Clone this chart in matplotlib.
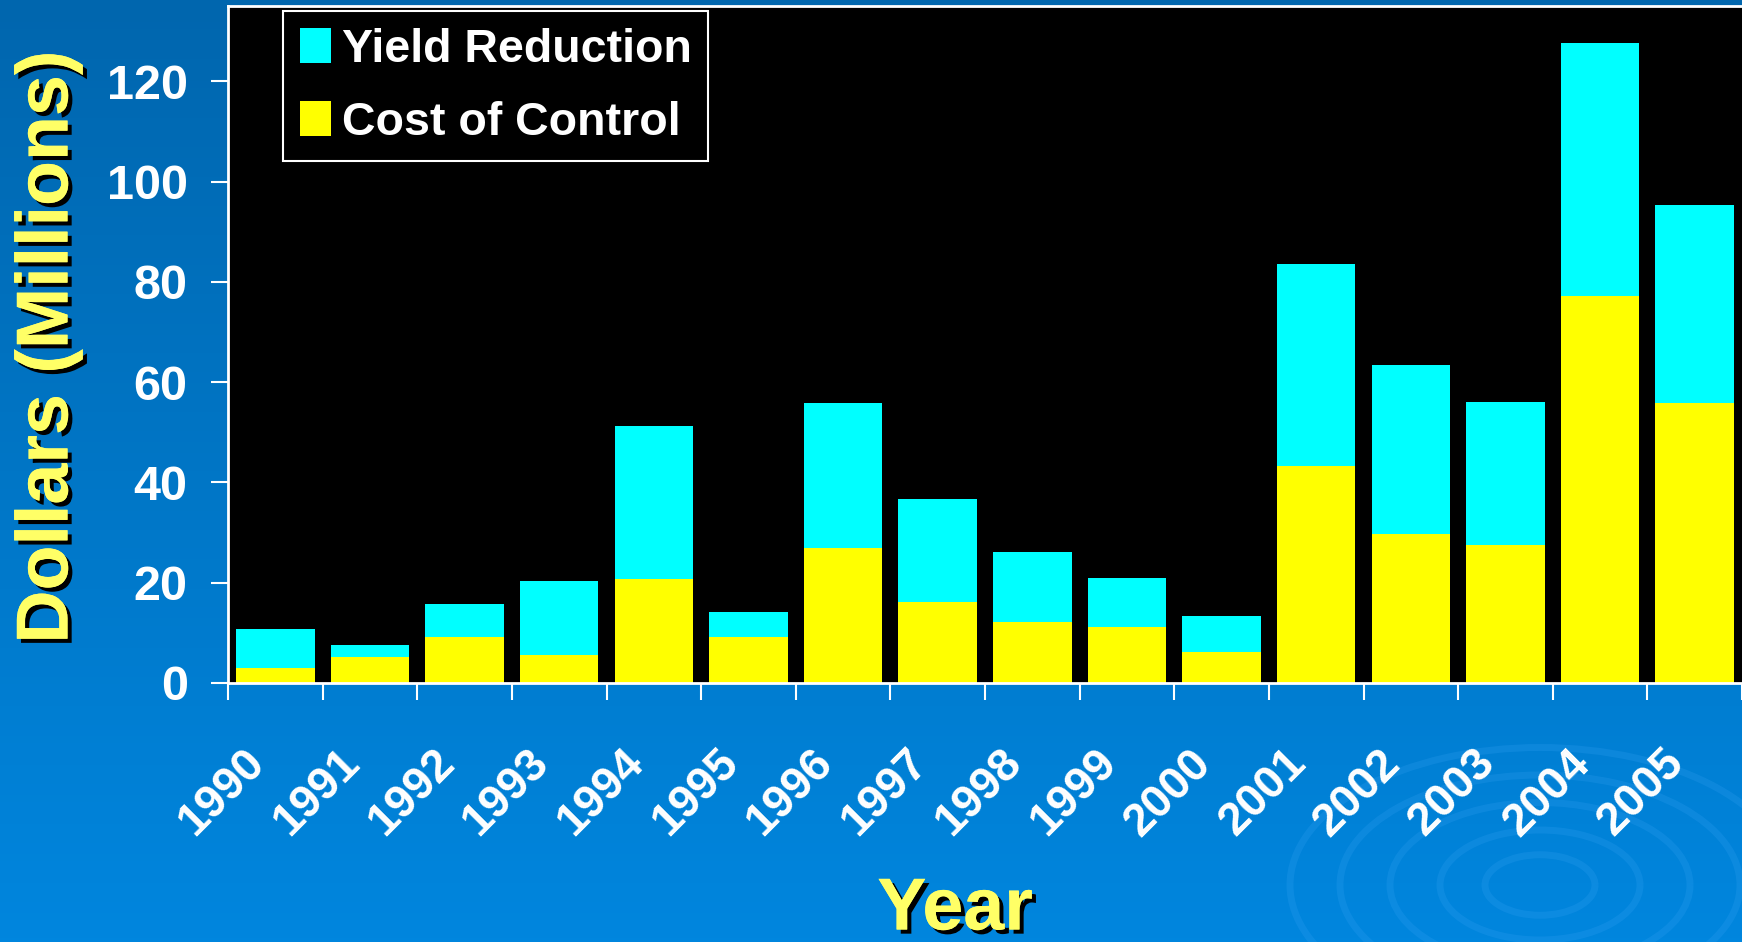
import numpy as np
import matplotlib
matplotlib.use("Agg")
import matplotlib.pyplot as plt
from matplotlib.patches import Patch, Arc
from matplotlib import patheffects as pe
from matplotlib.transforms import ScaledTranslation

# Annual losses, millions of dollars
years = ["1990", "1991", "1992", "1993", "1994", "1995", "1996", "1997",
         "1998", "1999", "2000", "2001", "2002", "2003", "2004", "2005"]
cost_of_control = [3.0, 5.1, 9.1, 5.5, 20.7, 9.1, 26.9, 16.2,
                   12.2, 11.2, 6.2, 43.2, 29.7, 27.5, 77.2, 55.8]
yield_reduction = [7.8, 2.4, 6.6, 14.9, 30.6, 5.0, 28.9, 20.5,
                   14.0, 9.8, 7.1, 40.3, 33.8, 28.5, 50.4, 39.5]
y_ticks = [0, 20, 40, 60, 80, 100, 120]

plt.rcParams['font.family'] = ['Liberation Sans', 'DejaVu Sans']
plt.rcParams['font.weight'] = 'bold'

W, H = 1742, 942
fig = plt.figure(figsize=(W / 100, H / 100), dpi=100)

# Slide background: vertical blue gradient with faint ripples
bg = fig.add_axes([0, 0, 1, 1], zorder=-10)
t = np.linspace(0, 1, 256)[:, None, None]
top = np.array([0x00, 0x66, 0xAE]) / 255
bottom = np.array([0x00, 0x86, 0xDE]) / 255
grad = top + (bottom - top) * t
bg.imshow(grad, aspect='auto', extent=[0, W, H, 0])
ripple = dict(color='#3aa4f4', alpha=0.22, lw=5)
for r in [55, 100, 150, 200, 250]:
    bg.add_patch(Arc((1540, 885), 2 * r, 1.1 * r, theta1=0, theta2=360, **ripple))
for r in [170, 230]:
    bg.add_patch(Arc((880, 975), 2 * r, 1.2 * r, theta1=20, theta2=170, **ripple))
for r in [90, 140]:
    bg.add_patch(Arc((1130, 960), 2 * r, 1.1 * r, theta1=30, theta2=160, **ripple))
bg.set_xlim(0, W)
bg.set_ylim(H, 0)
bg.axis('off')

# Plot area
ax = fig.add_axes([228 / W, 1 - 683 / H, 1514 / W, 677 / H])
ax.set_facecolor('black')
x = np.arange(len(years))
cost = np.array(cost_of_control)
yld = np.array(yield_reduction)
ax.bar(x, cost, width=0.83, color='#FFFF00', zorder=2)
ax.bar(x, yld, bottom=cost, width=0.83, color='#00FFFF', zorder=2)
ax.set_xlim(-0.5, len(years) - 0.5)
ax.set_ylim(0, 135)

for side in ['left', 'bottom', 'top']:
    ax.spines[side].set_color('white')
    ax.spines[side].set_linewidth(2)
ax.spines['right'].set_visible(False)

ax.set_yticks(y_ticks)
ax.tick_params(axis='y', length=12, width=1.5, color='white', pad=17,
               labelsize=35, labelcolor='white')

ax.set_xticks(x)
ax.set_xticklabels(years, rotation=45, rotation_mode='anchor', ha='right',
                   va='center', fontsize=33, color='white', fontweight='bold')
ax.tick_params(axis='x', which='major', length=0, pad=53)
ax.set_xticks(np.arange(-0.5, len(years), 1), minor=True)
ax.tick_params(axis='x', which='minor', length=12, width=1.5, color='white',
               direction='out')
shift = ScaledTranslation(-0.17, 0, fig.dpi_scale_trans)
for lab in ax.get_xticklabels():
    lab.set_transform(lab.get_transform() + shift)

handles = [Patch(facecolor='#00FFFF', edgecolor='none', label='Yield Reduction'),
           Patch(facecolor='#FFFF00', edgecolor='none', label='Cost of Control')]
leg = ax.legend(handles=handles, loc='upper left',
                bbox_to_anchor=((283 - 228) / 1514, (683 - 11) / 677),
                borderaxespad=0, frameon=True, fancybox=False,
                facecolor='black', edgecolor='white', framealpha=1,
                handlelength=0.68, handleheight=0.8, handletextpad=0.22,
                labelspacing=0.62, borderpad=0.36,
                prop={'family': ['Liberation Sans', 'DejaVu Sans'],
                      'weight': 'bold', 'size': 33.5})
leg.get_frame().set_linewidth(1.5)
for txt in leg.get_texts():
    txt.set_color('white')

shadow = [pe.withSimplePatchShadow(offset=(3, -3), shadow_rgbFace='black', alpha=1.0),
          pe.Normal()]
fig.text(48 / W, 1 - 347 / H, 'Dollars (Millions)', rotation=90, ha='center',
         va='center', fontsize=53, color='#FFFF66', fontweight='bold',
         path_effects=shadow)
fig.text(955 / W, 1 - 910 / H, 'Year', ha='center', va='center', fontsize=53,
         color='#FFFF66', fontweight='bold', path_effects=shadow)

fig.savefig('out.png', dpi=100)
